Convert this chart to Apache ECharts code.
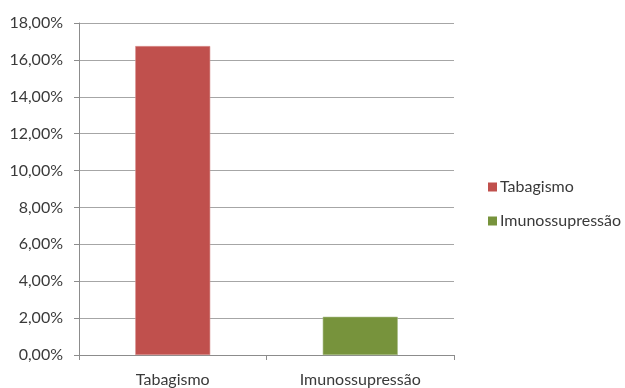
<!DOCTYPE html>
<html>
<head>
<meta charset="utf-8">
<script src="https://cdn.jsdelivr.net/npm/echarts@6/dist/echarts.min.js"></script>
<style>
  html, body { margin: 0; padding: 0; background: #fff; }
  #chart { width: 625px; height: 388px; }
</style>
</head>
<body>
<div id="chart"></div>
<script>
// data
let categories = ['Tabagismo', 'Imunossupressão'];
let seriesNames = ['Tabagismo', 'Imunossupressão'];
let tabagismo = [16.75, null];
let imunossupressao = [null, 2.07];
let seriesColors = ['#C0504D', '#77933C'];

let chart = echarts.init(document.getElementById('chart'));
chart.setOption({
    animation: false,
    textStyle: { fontFamily: 'Lato' },
    grid: {
        left: 79,
        right: 171,
        top: 23,
        bottom: 32
    },
    legend: {
        orient: 'vertical',
        left: 483,
        top: 174,
        itemWidth: 9,
        itemHeight: 9,
        itemGap: 18,
        icon: 'rect',
        itemStyle: { borderWidth: 0 },
        textStyle: { fontSize: 16, color: '#3a3a3a', padding: [0, 0, 0, -2] },
        data: seriesNames
    },
    xAxis: {
        type: 'category',
        data: categories,
        axisLine: { lineStyle: { color: '#8c8c8c' } },
        axisTick: { show: true, length: 5, lineStyle: { color: '#8c8c8c' } },
        axisLabel: { fontSize: 16, color: '#3a3a3a', margin: 17 }
    },
    yAxis: {
        type: 'value',
        min: 0,
        max: 18,
        interval: 2,
        axisLine: { show: true, lineStyle: { color: '#8c8c8c' } },
        axisTick: { show: true, length: 5, inside: false, lineStyle: { color: '#8c8c8c' } },
        splitLine: { lineStyle: { color: '#a6a6a6' } },
        axisLabel: {
            fontSize: 16,
            color: '#3a3a3a',
            margin: 16,
            formatter: function(v) { return v.toFixed(2).replace('.', ',') + '%'; }
        }
    },
    series: [{
        name: seriesNames[0],
        type: 'bar',
        data: tabagismo,
        barWidth: '40%',
        barGap: '-100%',
        itemStyle: { color: seriesColors[0], borderColor: '#d9908e', borderWidth: 0.6 }
    }, {
        name: seriesNames[1],
        type: 'bar',
        data: imunossupressao,
        barWidth: '40%',
        barGap: '-100%',
        itemStyle: { color: seriesColors[1], borderColor: '#a3b97f', borderWidth: 0.6 }
    }]
});
</script>
</body>
</html>
